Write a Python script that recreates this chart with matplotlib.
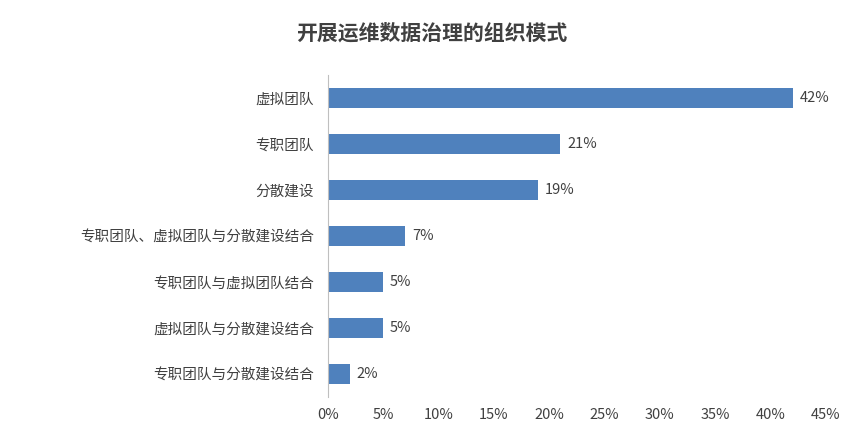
import matplotlib
matplotlib.use("Agg")
import matplotlib.pyplot as plt
from matplotlib.ticker import PercentFormatter

plt.rcParams["font.family"] = ["Noto Sans CJK SC", "DejaVu Sans"]

categories = [
    "虚拟团队",
    "专职团队",
    "分散建设",
    "专职团队、虚拟团队与分散建设结合",
    "专职团队与虚拟团队结合",
    "虚拟团队与分散建设结合",
    "专职团队与分散建设结合",
]
values = [42, 21, 19, 7, 5, 5, 2]
xticks = list(range(0, 50, 5))

BAR = "#4F81BD"
TEXT = "#404040"

fig = plt.figure(figsize=(8.63, 4.41), dpi=100)
ax = fig.add_axes([0.380, 0.100, 0.577, 0.730])

y = list(range(len(categories)))
ax.barh(y, values, height=0.43, color=BAR)
ax.set_ylim(len(categories) - 0.5, -0.5)
ax.set_yticks(y, categories)
ax.set_xlim(0, 45)
ax.set_xticks(xticks)
ax.xaxis.set_major_formatter(PercentFormatter(decimals=0))

for yi, v in zip(y, values):
    ax.text(v + 0.6, yi, f"{v}%", va="center", ha="left", fontsize=10.5, color=TEXT)

for side in ["top", "right", "bottom"]:
    ax.spines[side].set_visible(False)
ax.spines["left"].set_color("#BFBFBF")
ax.tick_params(axis="both", length=0, labelsize=10.5, colors=TEXT)
ax.tick_params(axis="y", pad=10)
ax.tick_params(axis="x", pad=8)

fig.text(0.5, 0.925, "开展运维数据治理的组织模式", ha="center", va="center",
         fontsize=15, fontweight="bold", color=TEXT)

fig.savefig("out.png", dpi=100)
